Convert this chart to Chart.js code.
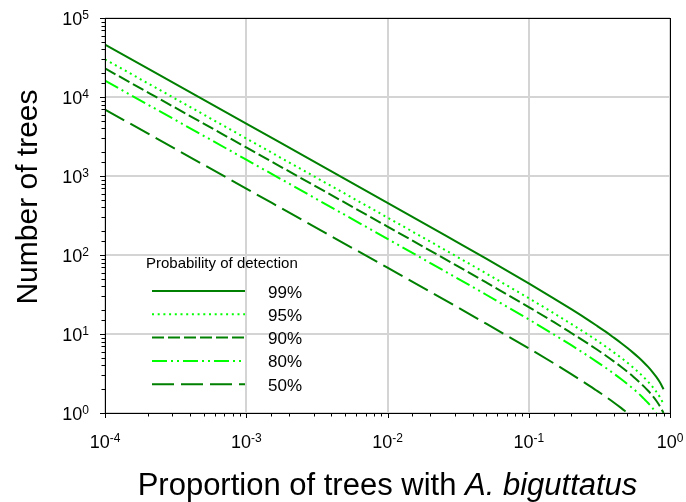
<!DOCTYPE html>
<html>
<head>
<meta charset="utf-8">
<script src="https://cdn.jsdelivr.net/npm/chart.js@4.4.1/dist/chart.umd.min.js"></script>
<style>
  html, body { margin: 0; padding: 0; background: #ffffff; }
  #wrap { width: 686px; height: 502px; position: relative; }
</style>
</head>
<body>
<div id="wrap"><canvas id="c" width="686" height="502"></canvas></div>
<script>
// ---- data ----
const proportions = [0.0001, 0.001, 0.01, 0.03, 0.05, 0.1, 0.15, 0.2, 0.25, 0.3, 0.35, 0.4, 0.45, 0.5, 0.55, 0.6, 0.65, 0.7, 0.75, 0.8, 0.85, 0.9];
const seriesLabels = ['99%', '95%', '90%', '80%', '50%'];
const trees99 = [46000, 4600, 458, 151, 90, 43.7, 28.3, 20.6, 16.0, 12.9, 10.7, 9.0, 7.7, 6.64, 5.77, 5.03, 4.39, 3.83, 3.32, 2.86, 2.43, 2.0];
const trees95 = [30000, 2990, 298, 98.4, 58.4, 28.4, 18.4, 13.4, 10.4, 8.4, 6.95, 5.86, 5.01, 4.32, 3.75, 3.27, 2.85, 2.49, 2.16, 1.86, 1.58, 1.30];
const trees90 = [23000, 2300, 229, 75.6, 44.9, 21.9, 14.2, 10.3, 8.0, 6.46, 5.35, 4.51, 3.85, 3.32, 2.88, 2.51, 2.19, 1.91, 1.66, 1.43, 1.21, 1.0];
const trees80 = [16100, 1610, 160, 52.8, 31.4, 15.3, 9.9, 7.21, 5.59, 4.51, 3.74, 3.15, 2.69, 2.32, 2.02, 1.76, 1.53, 1.34, 1.16, 1.0];
const trees50 = [6930, 693, 69, 22.8, 13.5, 6.58, 4.27, 3.11, 2.41, 1.94, 1.61, 1.36, 1.16, 1.0];
const xTickDecades = [-4, -3, -2, -1, 0];
const yTickDecades = [0, 1, 2, 3, 4, 5];
const legendTitle = 'Probability of detection';
const xTitleNormal = 'Proportion of trees with ';
const xTitleItalic = 'A. biguttatus';
const yTitle = 'Number of trees';

// ---- styling ----
const DARK = '#008000';
const BRIGHT = '#00ff00';
const FONT = '"Liberation Sans", Arial, Helvetica, sans-serif';
const styles = [
  { color: DARK, dash: [] },
  { color: BRIGHT, dash: [2, 3.7] },
  { color: DARK, dash: [12, 4] },
  { color: BRIGHT, dash: [15, 4, 2, 4, 2, 4] },
  { color: DARK, dash: [22, 7] }
];
const seriesValues = [trees99, trees95, trees90, trees80, trees50];

const datasets = seriesValues.map((vals, i) => ({
  label: seriesLabels[i],
  data: vals.map((v, j) => ({ x: proportions[j], y: v })),
  borderColor: styles[i].color,
  backgroundColor: styles[i].color,
  borderDash: styles[i].dash,
  borderWidth: 2,
  pointRadius: 0,
  cubicInterpolationMode: 'monotone',
  fill: false
}));

function isDecade(v) {
  const l = Math.log10(v);
  return Math.abs(l - Math.round(l)) < 1e-6;
}

function drawPower(ctx, exp, x, y, align) {
  // draws "10" with superscript exponent; y = baseline of "10"
  const base = '10';
  const sup = String(exp);
  ctx.font = '18px ' + FONT;
  const wb = ctx.measureText(base).width;
  ctx.font = '12px ' + FONT;
  const ws = ctx.measureText(sup).width;
  const total = wb + ws;
  let x0;
  if (align === 'center') x0 = x - total / 2;
  else if (align === 'right') x0 = x - total;
  else x0 = x;
  ctx.textAlign = 'left';
  ctx.textBaseline = 'alphabetic';
  ctx.font = '18px ' + FONT;
  ctx.fillText(base, x0, y);
  ctx.font = '12px ' + FONT;
  ctx.fillText(sup, x0 + wb, y - 6);
}

const decorPlugin = {
  id: 'decor',
  afterDraw(chart) {
    const ctx = chart.ctx;
    const area = chart.chartArea;
    const xs = chart.scales.x;
    const ys = chart.scales.y;
    ctx.save();
    ctx.fillStyle = '#000';
    ctx.strokeStyle = '#000';
    ctx.lineWidth = 1;
    ctx.setLineDash([]);
    // frame
    ctx.strokeRect(Math.round(area.left) + 0.5, Math.round(area.top) + 0.5,
                   Math.round(area.right - area.left), Math.round(area.bottom - area.top));
    // x ticks
    ctx.beginPath();
    xs.ticks.forEach(t => {
      const px = Math.round(xs.getPixelForValue(t.value)) + 0.5;
      const len = isDecade(t.value) ? 5 : 3.5;
      ctx.moveTo(px, area.bottom);
      ctx.lineTo(px, area.bottom + len);
    });
    // y ticks
    ys.ticks.forEach(t => {
      const py = Math.round(ys.getPixelForValue(t.value)) + 0.5;
      const len = isDecade(t.value) ? 5 : 3.5;
      ctx.moveTo(area.left, py);
      ctx.lineTo(area.left - len, py);
    });
    ctx.stroke();
    // tick labels
    xTickDecades.forEach(e => {
      const px = xs.getPixelForValue(Math.pow(10, e));
      drawPower(ctx, e, px, 448, 'center');
    });
    yTickDecades.forEach(e => {
      const py = ys.getPixelForValue(Math.pow(10, e));
      drawPower(ctx, e, 89, py + 6.5, 'right');
    });
    // y title
    ctx.save();
    ctx.translate(37, 197);
    ctx.rotate(-Math.PI / 2);
    ctx.font = '30px ' + FONT;
    ctx.textAlign = 'center';
    ctx.textBaseline = 'alphabetic';
    ctx.fillText(yTitle, 0, 0);
    ctx.restore();
    // x title
    ctx.font = '31px ' + FONT;
    const w1 = ctx.measureText(xTitleNormal).width;
    ctx.font = 'italic 31px ' + FONT;
    const w2 = ctx.measureText(xTitleItalic).width;
    const cx = (area.left + area.right) / 2;
    const sx = cx - (w1 + w2) / 2;
    ctx.textAlign = 'left';
    ctx.textBaseline = 'alphabetic';
    ctx.font = '31px ' + FONT;
    ctx.fillText(xTitleNormal, sx, 495);
    ctx.font = 'italic 31px ' + FONT;
    ctx.fillText(xTitleItalic, sx + w1, 495);
    // legend
    ctx.font = '15px ' + FONT;
    ctx.fillText(legendTitle, 146, 268);
    chart.data.datasets.forEach((ds, i) => {
      const y = 291 + i * 23.3;
      ctx.save();
      ctx.strokeStyle = ds.borderColor;
      ctx.lineWidth = 2;
      ctx.setLineDash(ds.borderDash || []);
      ctx.beginPath();
      ctx.moveTo(152, y);
      ctx.lineTo(245, y);
      ctx.stroke();
      ctx.restore();
      ctx.fillStyle = '#000';
      ctx.font = '17px ' + FONT;
      ctx.fillText(ds.label, 268, y + 6.5);
    });
    ctx.restore();
  }
};

new Chart(document.getElementById('c'), {
  type: 'line',
  data: { datasets },
  options: {
    responsive: false,
    animation: false,
    layout: { padding: { top: 18, right: 16, left: 0, bottom: 0 } },
    plugins: { legend: { display: false }, tooltip: { enabled: false } },
    scales: {
      x: {
        type: 'logarithmic',
        min: 0.0001,
        max: 1,
        ticks: { display: false },
        border: { display: false },
        grid: {
          drawTicks: false,
          lineWidth: 2,
          color: c => (c.tick && isDecade(c.tick.value)) ? '#d4d4d4' : 'rgba(0,0,0,0)'
        },
        afterFit: s => { s.height = 89; }
      },
      y: {
        type: 'logarithmic',
        min: 1,
        max: 100000,
        ticks: { display: false },
        border: { display: false },
        grid: {
          drawTicks: false,
          lineWidth: 2,
          color: c => (c.tick && isDecade(c.tick.value)) ? '#d4d4d4' : 'rgba(0,0,0,0)'
        },
        afterFit: s => { s.width = 105; }
      }
    }
  },
  plugins: [decorPlugin]
});
</script>
</body>
</html>
